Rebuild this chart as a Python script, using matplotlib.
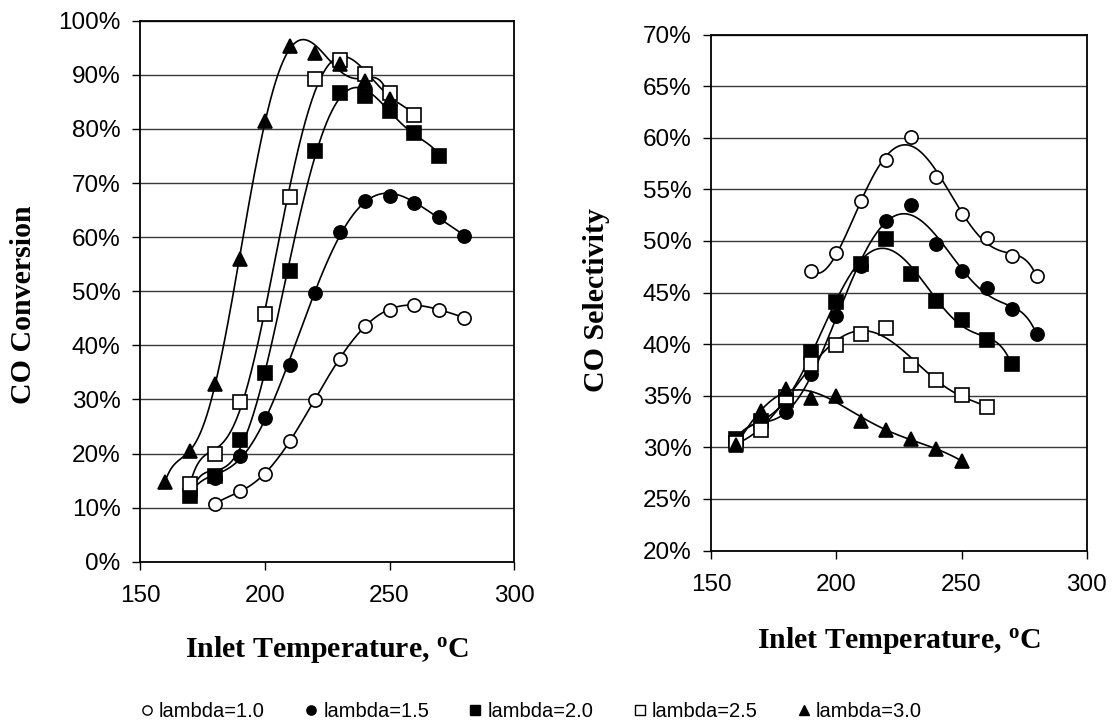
import numpy as np
import matplotlib
matplotlib.use('Agg')
import matplotlib.pyplot as plt
from matplotlib.lines import Line2D
from matplotlib.ticker import PercentFormatter, MultipleLocator

plt.rcParams['font.family'] = ['Liberation Sans', 'DejaVu Sans']
plt.rcParams['mathtext.fontset'] = 'custom'
plt.rcParams['mathtext.rm'] = 'Liberation Serif:bold'
plt.rcParams['mathtext.it'] = 'Liberation Serif:bold'
plt.rcParams['mathtext.bf'] = 'Liberation Serif:bold'

labels = ['lambda=1.0', 'lambda=1.5', 'lambda=2.0', 'lambda=2.5', 'lambda=3.0']

# CO conversion (%) vs inlet temperature
conv_t_10 = [180, 190, 200, 210, 220, 230, 240, 250, 260, 270, 280]
conv_10 = [10.6, 13.0, 16.2, 22.4, 29.9, 37.4, 43.6, 46.6, 47.4, 46.6, 45.1]
conv_t_15 = [170, 180, 190, 200, 210, 220, 230, 240, 250, 260, 270, 280]
conv_15 = [12.6, 15.5, 19.6, 26.6, 36.4, 49.7, 60.9, 66.6, 67.6, 66.4, 63.7, 60.2]
conv_t_20 = [170, 180, 190, 200, 210, 220, 230, 240, 250, 260, 270]
conv_20 = [12.2, 15.8, 22.5, 34.8, 53.7, 75.9, 86.7, 86.1, 83.3, 79.3, 75.0]
conv_t_25 = [170, 180, 190, 200, 210, 220, 230, 240, 250, 260]
conv_25 = [14.4, 19.9, 29.6, 45.7, 67.5, 89.2, 92.7, 90.1, 86.6, 82.6]
conv_t_30 = [160, 170, 180, 190, 200, 210, 220, 230, 240, 250]
conv_30 = [14.7, 20.5, 32.8, 55.9, 81.5, 95.4, 94.1, 92.0, 88.9, 85.5]

# CO selectivity (%) vs inlet temperature
sel_t_10 = [190, 200, 210, 220, 230, 240, 250, 260, 270, 280]
sel_10 = [47.1, 48.8, 53.9, 57.8, 60.1, 56.2, 52.6, 50.3, 48.5, 46.6]
sel_t_15 = [160, 170, 180, 190, 200, 210, 220, 230, 240, 250, 260, 270, 280]
sel_15 = [30.4, 32.3, 33.4, 37.1, 42.7, 47.6, 51.9, 53.5, 49.7, 47.1, 45.4, 43.4, 41.0]
sel_t_20 = [160, 170, 180, 190, 200, 210, 220, 230, 240, 250, 260, 270]
sel_20 = [30.8, 32.6, 34.6, 39.2, 44.1, 47.8, 50.2, 46.8, 44.2, 42.3, 40.4, 38.1]
sel_t_25 = [160, 170, 180, 190, 200, 210, 220, 230, 240, 250, 260]
sel_25 = [30.4, 31.7, 34.9, 38.1, 39.9, 41.0, 41.6, 38.0, 36.5, 35.1, 33.9]
sel_t_30 = [160, 170, 180, 190, 200, 210, 220, 230, 240, 250]
sel_30 = [30.2, 33.5, 35.7, 34.8, 35.0, 32.6, 31.7, 30.8, 29.8, 28.7]

marker_styles = [
    dict(marker='o', mfc='white', mec='black', ms=9.5),
    dict(marker='o', mfc='black', mec='black', ms=9.5),
    dict(marker='s', mfc='black', mec='black', ms=9.5),
    dict(marker='s', mfc='white', mec='black', ms=9.5),
    dict(marker='^', mfc='black', mec='black', ms=10.5),
]


def trendline(ax, x, y, order=6):
    # Excel-style 6th order polynomial trendline
    x = np.asarray(x, float)
    y = np.asarray(y, float)
    xs = (x - 220.0) / 50.0
    coef = np.polyfit(xs, y, min(order, len(x) - 1))
    xf = np.linspace(x.min(), x.max(), 300)
    ax.plot(xf, np.polyval(coef, (xf - 220.0) / 50.0), color='black', lw=1.2, zorder=2)


def style_axes(ax, ylo, yhi, ystep):
    ax.set_xlim(150, 300)
    ax.set_ylim(ylo, yhi)
    ax.xaxis.set_major_locator(MultipleLocator(50))
    ax.yaxis.set_major_locator(MultipleLocator(ystep))
    ax.yaxis.set_major_formatter(PercentFormatter(decimals=0))
    ax.grid(axis='y', color='#3a3a3a', lw=1.0)
    ax.set_axisbelow(True)
    for s in ax.spines.values():
        s.set_color('black')
        s.set_linewidth(1.3)
    ax.tick_params(axis='both', direction='out', length=6, width=1.0,
                   labelsize=17.5, colors='black')
    ax.tick_params(axis='x', pad=11)
    ax.tick_params(axis='y', pad=8)


fig = plt.figure(figsize=(11.12, 7.25), dpi=100)
ax1 = fig.add_axes([0.1259, 0.2252, 0.3366, 0.7462])
ax2 = fig.add_axes([0.6394, 0.2406, 0.3379, 0.7117])

conv_sets = [(conv_t_10, conv_10), (conv_t_15, conv_15), (conv_t_20, conv_20),
             (conv_t_25, conv_25), (conv_t_30, conv_30)]
sel_sets = [(sel_t_10, sel_10), (sel_t_15, sel_15), (sel_t_20, sel_20),
            (sel_t_25, sel_25), (sel_t_30, sel_30)]

for ax, sets in [(ax1, conv_sets), (ax2, sel_sets)]:
    for (t, v), st in zip(sets, marker_styles):
        trendline(ax, t, v)
        ax.plot(t, v, ls='none', mew=1.2, zorder=3, **st)

style_axes(ax1, 0, 100, 10)
style_axes(ax2, 20, 70, 5)

lab_font = dict(family='Liberation Serif', fontweight='bold', fontsize=21.5)
xlab = 'Inlet Temperature, $^{\\mathrm{o}}$C'
ax1.set_xlabel(xlab, **lab_font)
ax2.set_xlabel(xlab, **lab_font)
ax1.set_ylabel('CO Conversion', **lab_font)
ax2.set_ylabel('CO Selectivity', **lab_font)
ax1.xaxis.set_label_coords(0.5, -0.134)
ax2.xaxis.set_label_coords(0.5, -0.145)
ax1.yaxis.set_label_coords(-0.276, 0.475)
ax2.yaxis.set_label_coords(-0.268, 0.485)

handles = [Line2D([], [], ls='none', mew=1.0, **dict(st, ms=st['ms'] * 0.7))
           for st in marker_styles]
fig.legend(handles, labels, loc='center', bbox_to_anchor=(0.477, 0.019),
           ncol=5, frameon=False, fontsize=14.5, handletextpad=0.2,
           columnspacing=1.9, handlelength=0.8)

fig.savefig('out.png', dpi=100)
